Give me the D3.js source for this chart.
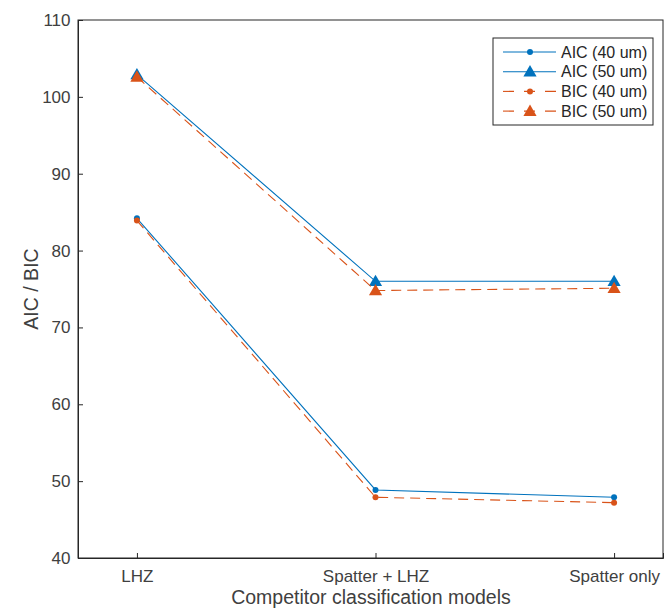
<!DOCTYPE html>
<html>
<head>
<meta charset="utf-8">
<script src="https://cdn.jsdelivr.net/npm/d3@7.9.0/dist/d3.min.js"></script>
<style>
  body { margin: 0; background: #fff; }
  svg { font-family: 'Liberation Sans', Arial, sans-serif; }
</style>
</head>
<body>
<div id="chart"></div>
<script>
const categories = ['LHZ', 'Spatter + LHZ', 'Spatter only'];
const aic40 = [84.2, 48.85, 47.9];
const aic50 = [102.9, 76.0, 76.0];
const bic40 = [83.9, 47.9, 47.2];
const bic50 = [102.6, 74.8, 75.1];
const yTicks = [40, 50, 60, 70, 80, 90, 100, 110];

const series = [
  { name: 'AIC (40 um)', values: aic40, color: '#0072BD', dash: null, marker: 'dot' },
  { name: 'AIC (50 um)', values: aic50, color: '#0072BD', dash: null, marker: 'tri' },
  { name: 'BIC (40 um)', values: bic40, color: '#D95319', dash: '10,6', marker: 'dot' },
  { name: 'BIC (50 um)', values: bic50, color: '#D95319', dash: '10,6', marker: 'tri' },
];

const width = 664;
const height = 612;
const area = { left: 78, right: 663, top: 20, bottom: 558 };

const svg = d3.select('#chart').append('svg')
  .attr('width', width)
  .attr('height', height);

// categories sit at 1..3, axis limits slightly padded like matlab
const xScale = d3.scaleLinear().domain([0.753, 3.205]).range([area.left, area.right]);
const yScale = d3.scaleLinear().domain([40, 110]).range([area.bottom, area.top]);

// box
svg.append('rect')
  .attr('x', area.left).attr('y', area.top)
  .attr('width', area.right - area.left).attr('height', area.bottom - area.top)
  .attr('fill', 'none').attr('stroke', '#262626').attr('stroke-width', 1);

// y axis (ticks inward)
const yAxis = svg.append('g')
  .attr('transform', `translate(${area.left},0)`)
  .call(d3.axisLeft(yScale).tickValues(yTicks).tickSize(-5).tickPadding(7.5));
yAxis.select('.domain').attr('stroke', '#262626');
yAxis.selectAll('line').attr('stroke', '#262626');
yAxis.selectAll('text').attr('font-size', 17).attr('fill', '#404040')
  .attr('font-family', "'Liberation Sans', Arial, sans-serif");

// x axis
const xAxis = svg.append('g')
  .attr('transform', `translate(0,${area.bottom})`)
  .call(d3.axisBottom(xScale).tickValues([1, 2, 3]).tickSize(-5)
    .tickFormat((d) => categories[d - 1]).tickPadding(12));
xAxis.select('.domain').attr('stroke', '#262626');
xAxis.selectAll('line').attr('stroke', '#262626');
xAxis.selectAll('text').attr('font-size', 17).attr('fill', '#404040')
  .attr('font-family', "'Liberation Sans', Arial, sans-serif");

// axis labels
svg.append('text')
  .attr('x', 371).attr('y', 604)
  .attr('text-anchor', 'middle')
  .attr('font-size', 19.5).attr('fill', '#404040')
  .text('Competitor classification models');

svg.append('text')
  .attr('transform', `translate(38,${(area.top + area.bottom) / 2}) rotate(-90)`)
  .attr('text-anchor', 'middle')
  .attr('font-size', 19.5).attr('fill', '#404040')
  .text('AIC / BIC');

const line = d3.line()
  .x((d, i) => xScale(i + 1))
  .y((d) => yScale(d));

const triangle = d3.symbol().type(d3.symbolTriangle).size(75);

function drawMarker(g, type, color, x, y) {
  if (type === 'dot') {
    g.append('circle').attr('cx', x).attr('cy', y).attr('r', 3).attr('fill', color);
  } else {
    g.append('path').attr('d', triangle)
      .attr('transform', `translate(${x},${y + 1})`)
      .attr('fill', color);
  }
}

const plot = svg.append('g');
series.forEach((s) => {
  const g = plot.append('g');
  g.append('path')
    .attr('d', line(s.values))
    .attr('fill', 'none')
    .attr('stroke', s.color)
    .attr('stroke-width', 1.1)
    .attr('stroke-dasharray', s.dash);
  s.values.forEach((v, i) => drawMarker(g, s.marker, s.color, xScale(i + 1), yScale(v)));
});

// legend
const legend = svg.append('g');
legend.append('rect')
  .attr('x', 493).attr('y', 38).attr('width', 160).attr('height', 87)
  .attr('fill', '#fff').attr('stroke', '#262626').attr('stroke-width', 1);
series.forEach((s, i) => {
  const y = 52 + i * 19.7;
  legend.append('line')
    .attr('x1', 503).attr('x2', 556).attr('y1', y).attr('y2', y)
    .attr('stroke', s.color).attr('stroke-width', 1.1)
    .attr('stroke-dasharray', s.dash ? '11,10' : null);
  drawMarker(legend, s.marker, s.color, 530, y);
  legend.append('text')
    .attr('x', 561).attr('y', y + 5.5)
    .attr('font-size', 16).attr('fill', '#262626')
    .text(s.name);
});
</script>
</body>
</html>
